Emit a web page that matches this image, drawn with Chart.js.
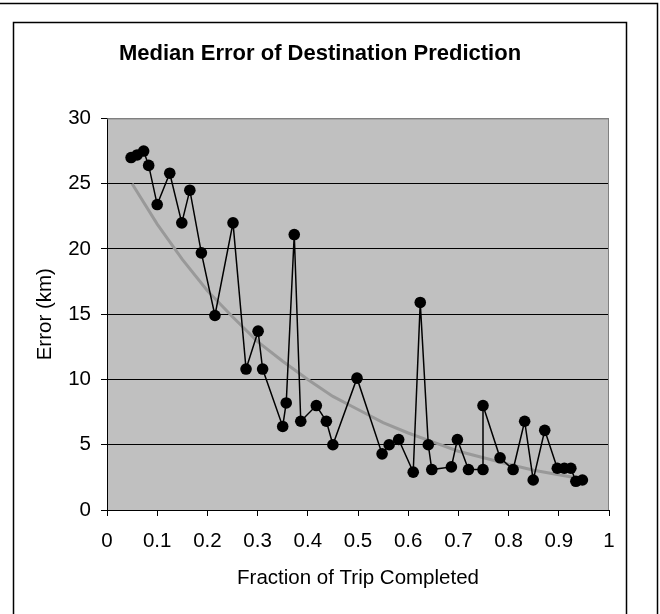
<!DOCTYPE html>
<html><head><meta charset="utf-8">
<script src="https://cdn.jsdelivr.net/npm/chart.js@4/dist/chart.umd.min.js"></script>
<style>html,body{margin:0;padding:0;background:#fff}canvas{display:block}</style>
</head><body>
<canvas id="c" width="660" height="614"></canvas>
<script>
// Fraction of trip completed (x) and median error in km (y)
const fractionCompleted = [0.048, 0.060, 0.073, 0.083, 0.100, 0.125, 0.149, 0.165, 0.188, 0.215,
  0.251, 0.277, 0.301, 0.310, 0.350, 0.357, 0.373, 0.386, 0.417, 0.437,
  0.450, 0.498, 0.548, 0.562, 0.581, 0.610, 0.624, 0.640, 0.647, 0.686,
  0.698, 0.720, 0.749, 0.749, 0.783, 0.809, 0.832, 0.849, 0.872, 0.897,
  0.911, 0.924, 0.934, 0.947];
const medianErrorKm = [27.0, 27.2, 27.5, 26.4, 23.4, 25.8, 22.0, 24.5, 19.7, 14.9,
  22.0, 10.8, 13.7, 10.8, 6.4, 8.2, 21.1, 6.8, 8.0, 6.8,
  5.0, 10.1, 4.3, 5.0, 5.4, 2.9, 15.9, 5.0, 3.1, 3.3,
  5.4, 3.1, 3.1, 8.0, 4.0, 3.1, 6.8, 2.3, 6.1, 3.2,
  3.2, 3.2, 2.2, 2.3];
// Grey trend line
const trendFraction = [0.05, 0.10, 0.15, 0.20, 0.25, 0.30, 0.35, 0.40, 0.45, 0.50,
  0.55, 0.60, 0.65, 0.70, 0.75, 0.80, 0.85, 0.90, 0.95];
const trendErrorKm = [25.0, 21.9, 19.2, 16.8, 14.8, 12.9, 11.4, 10.0, 8.7, 7.7,
  6.7, 5.9, 5.2, 4.5, 4.0, 3.5, 3.05, 2.7, 2.35];
const xTickLabels = ['0', '0.1', '0.2', '0.3', '0.4', '0.5', '0.6', '0.7', '0.8', '0.9', '1'];
const yTickValues = [0, 5, 10, 15, 20, 25, 30];

const FONT = "'Liberation Sans', Arial, Helvetica, sans-serif";

const frame = {
  id: 'frame',
  beforeDraw(chart) {
    const ctx = chart.ctx, a = chart.chartArea, H = chart.height;
    ctx.save();
    ctx.fillStyle = '#fff';
    ctx.fillRect(0, 0, chart.width, H);
    ctx.strokeStyle = '#000';
    ctx.lineWidth = 1.5;
    ctx.beginPath();
    ctx.moveTo(0, 3.5); ctx.lineTo(657.5, 3.5); ctx.lineTo(657.5, H);
    ctx.stroke();
    ctx.beginPath();
    ctx.moveTo(13.5, H); ctx.lineTo(13.5, 22.5); ctx.lineTo(626.5, 22.5); ctx.lineTo(626.5, H);
    ctx.stroke();
    ctx.fillStyle = '#c0c0c0';
    ctx.fillRect(a.left, a.top, a.right - a.left, a.bottom - a.top);
    ctx.restore();
  },
  beforeDatasetsDraw(chart) {
    const ctx = chart.ctx, a = chart.chartArea;
    ctx.save();
    ctx.strokeStyle = '#808080';
    ctx.lineWidth = 1;
    ctx.beginPath();
    ctx.moveTo(a.left, a.top + 0.5); ctx.lineTo(a.right - 0.5, a.top + 0.5); ctx.lineTo(a.right - 0.5, a.bottom);
    ctx.stroke();
    ctx.restore();
  }
};

new Chart(document.getElementById('c'), {
  type: 'scatter',
  data: {
    datasets: [
      {
        label: 'Median error',
        data: fractionCompleted.map((x, i) => ({x, y: medianErrorKm[i]})),
        showLine: true,
        borderColor: '#000',
        borderWidth: 1.5,
        pointRadius: 5.8,
        pointBackgroundColor: '#000',
        pointBorderColor: '#000',
        pointBorderWidth: 0,
        tension: 0,
        order: 0
      },
      {
        label: 'Trend',
        data: trendFraction.map((x, i) => ({x, y: trendErrorKm[i]})),
        showLine: true,
        borderColor: '#999999',
        borderWidth: 3,
        pointRadius: 0,
        tension: 0,
        order: 1
      }
    ]
  },
  options: {
    responsive: false,
    animation: false,
    devicePixelRatio: 1,
    layout: { padding: { left: 13, right: 33, top: 22, bottom: 23 } },
    plugins: {
      legend: { display: false },
      tooltip: { enabled: false },
      title: {
        display: true,
        text: 'Median Error of Destination Prediction',
        color: '#000',
        font: { family: FONT, size: 22, weight: 'bold' },
        padding: { top: 19, bottom: 51 }
      }
    },
    scales: {
      x: {
        type: 'linear',
        position: 'bottom',
        min: 0, max: 1,
        ticks: {
          stepSize: 0.1,
          autoSkip: false,
          maxRotation: 0,
          padding: 13,
          color: '#000',
          font: { family: FONT, size: 20.5 },
          callback: (v, i) => xTickLabels[i]
        },
        grid: { drawOnChartArea: false, drawTicks: true, tickLength: 6, color: '#000', lineWidth: 1 },
        border: { display: true, color: '#000', width: 1 },
        title: {
          display: true,
          text: 'Fraction of Trip Completed',
          color: '#000',
          font: { family: FONT, size: 20.5 },
          padding: { top: 0, bottom: 0 }
        },
        afterFit(s) { s.height = 81; s.paddingLeft = 0; s.paddingRight = 51; }
      },
      y: {
        type: 'linear',
        min: 0, max: 30,
        afterBuildTicks(s) { s.ticks = yTickValues.map(v => ({value: v})); },
        ticks: {
          stepSize: 5,
          padding: 10,
          color: '#000',
          font: { family: FONT, size: 20.5 }
        },
        grid: {
          color: c => (c.tick && c.tick.value === 30) ? '#808080' : '#000',
          tickColor: '#000',
          tickLength: 6,
          lineWidth: 1
        },
        border: { display: true, color: '#000', width: 1 },
        title: {
          display: true,
          text: 'Error (km)',
          color: '#000',
          font: { family: FONT, size: 20.5 },
          padding: { top: 20, bottom: 0 }
        },
        afterFit(s) { s.width = 94; }
      }
    }
  },
  plugins: [frame]
});
</script>
</body></html>
